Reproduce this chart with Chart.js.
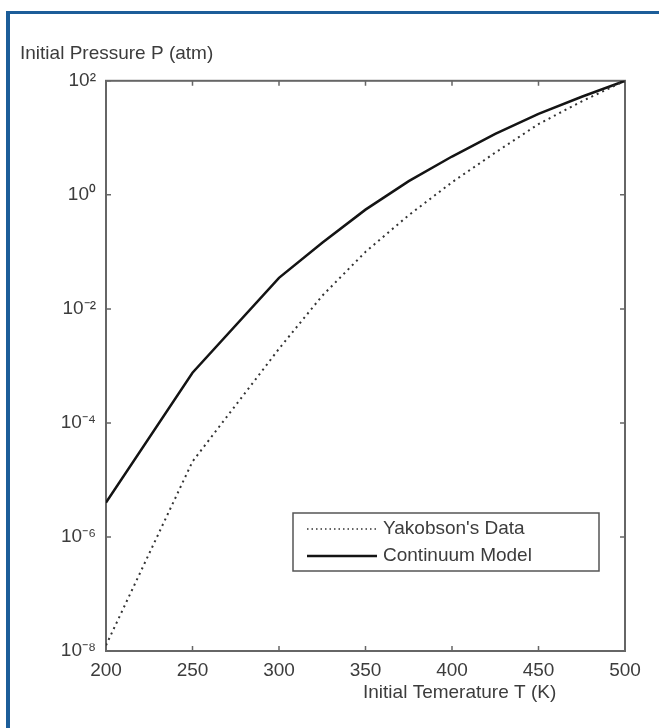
<!DOCTYPE html>
<html>
<head>
<meta charset="utf-8">
<script src="https://cdn.jsdelivr.net/npm/chart.js@4"></script>
<style>
    html, body { margin: 0; padding: 0; background: #fff; }
    #wrap { position: relative; width: 659px; height: 728px; overflow: hidden; }
    #frame {
        position: absolute; left: 6px; top: 11px; right: -10px; bottom: -10px;
        border-left: 4px solid #1c5d99; border-top: 3px solid #1c5d99;
    }
    canvas { position: absolute; left: 0; top: 0; }
</style>
</head>
<body>
<div id="wrap">
    <div id="frame"></div>
    <canvas id="pressureChart" width="659" height="728"></canvas>
</div>
<script>
const temperatures = [200, 250, 300, 325, 350, 375, 400, 425, 450, 475, 500];
const yakobsonData = [1.26e-8, 2.1e-5, 2.0e-3, 0.017, 0.10, 0.44, 1.66, 5.5, 17.4, 43.6, 100];
const continuumModel = [4.0e-6, 7.6e-4, 0.035, 0.145, 0.55, 1.74, 4.7, 11.7, 26.3, 52.5, 100];

const xTickValues = [200, 250, 300, 350, 400, 450, 500];
const yTickValues = [1e-8, 1e-6, 1e-4, 1e-2, 1, 1e2];
const yTickLabels = ["10⁻⁸", "10⁻⁶", "10⁻⁴", "10⁻²", "10⁰", "10²"];

const yTitle = "Initial Pressure P (atm)";
const xTitle = "Initial Temerature T (K)";

const fontFamily = "'Liberation Sans', Arial, sans-serif";
const textColor = "#3c3c3c";
const axisColor = "#666";

function toPoints(values) {
    return temperatures.map((t, i) => ({ x: t, y: values[i] }));
}

// box around the plot + MATLAB style inward ticks
const axisBox = {
    id: "axisBox",
    beforeDatasetsDraw(chart) {
        const { ctx, chartArea: a, scales } = chart;
        ctx.save();
        ctx.strokeStyle = axisColor;
        ctx.lineWidth = 2;
        ctx.strokeRect(a.left, a.top, a.right - a.left, a.bottom - a.top);
        ctx.lineWidth = 1.5;
        ctx.beginPath();
        scales.x.ticks.forEach(t => {
            const px = scales.x.getPixelForValue(t.value);
            ctx.moveTo(px, a.bottom); ctx.lineTo(px, a.bottom - 5);
            ctx.moveTo(px, a.top); ctx.lineTo(px, a.top + 5);
        });
        scales.y.ticks.forEach(t => {
            const py = scales.y.getPixelForValue(t.value);
            ctx.moveTo(a.left, py); ctx.lineTo(a.left + 5, py);
            ctx.moveTo(a.right, py); ctx.lineTo(a.right - 5, py);
        });
        ctx.stroke();
        ctx.restore();
    }
};

// legend inside the plot with a frame, and the x title
const insetLegend = {
    id: "insetLegend",
    afterDraw(chart) {
        const { ctx, chartArea: a } = chart;
        const w = 306, h = 58;
        const x0 = a.right - 26 - w;
        const y0 = a.bottom - 80 - h;
        ctx.save();
        ctx.fillStyle = "#fff";
        ctx.fillRect(x0, y0, w, h);
        ctx.strokeStyle = "#555";
        ctx.lineWidth = 1.5;
        ctx.strokeRect(x0, y0, w, h);
        ctx.font = "19px " + fontFamily;
        ctx.textBaseline = "middle";
        chart.data.datasets.forEach((ds, i) => {
            const y = y0 + 16 + i * 27;
            ctx.strokeStyle = ds.borderColor;
            ctx.lineWidth = ds.legendWidth;
            ctx.setLineDash(ds.legendDash);
            ctx.beginPath();
            ctx.moveTo(x0 + 14, y);
            ctx.lineTo(x0 + 84, y);
            ctx.stroke();
            ctx.setLineDash([]);
            ctx.fillStyle = textColor;
            ctx.fillText(ds.label, x0 + 90, y);
        });

        ctx.textAlign = "left";
        ctx.fillText(xTitle, a.left + 257, 693);
        ctx.restore();
    }
};

const ctx = document.getElementById("pressureChart").getContext("2d");

new Chart(ctx, {
    type: "line",
    data: {
        datasets: [
            {
                label: "Yakobson's Data",
                data: toPoints(yakobsonData),
                borderColor: "#333",
                borderWidth: 2,
                borderDash: [2, 4],
                legendDash: [1.5, 3],
                legendWidth: 1.5,
                pointRadius: 0,
                fill: false
            },
            {
                label: "Continuum Model",
                data: toPoints(continuumModel),
                borderColor: "#141414",
                borderWidth: 2.5,
                legendDash: [],
                legendWidth: 2.5,
                pointRadius: 0,
                fill: false
            }
        ]
    },
    options: {
        responsive: false,
        animation: false,
        layout: { padding: { left: 20, right: 34, top: 0, bottom: 0 } },
        plugins: {
            legend: { display: false },
            tooltip: { enabled: false },
            title: {
                display: true,
                text: yTitle,
                align: "start",
                color: textColor,
                font: { family: fontFamily, size: 19, weight: "normal" },
                padding: { top: 42, bottom: 16 }
            }
        },
        scales: {
            x: {
                type: "linear",
                min: 200,
                max: 500,
                grid: { display: false, drawTicks: false },
                border: { display: false },
                afterBuildTicks: s => { s.ticks = xTickValues.map(v => ({ value: v })); },
                afterFit: s => { s.height = 77; },
                ticks: {
                    color: textColor,
                    padding: 8,
                    maxRotation: 0,
                    font: { family: fontFamily, size: 19 }
                }
            },
            y: {
                type: "logarithmic",
                min: 1e-8,
                max: 1e2,
                grid: { display: false, drawTicks: false },
                border: { display: false },
                afterBuildTicks: s => { s.ticks = yTickValues.map(v => ({ value: v })); },
                afterFit: s => { s.width = 86; },
                ticks: {
                    color: textColor,
                    padding: 10,
                    font: { family: fontFamily, size: 19 },
                    callback: v => {
                        const i = yTickValues.findIndex(t => Math.abs(Math.log10(t) - Math.log10(v)) < 1e-6);
                        return i >= 0 ? yTickLabels[i] : "";
                    }
                }
            }
        }
    },
    plugins: [axisBox, insetLegend]
});
</script>
</body>
</html>
